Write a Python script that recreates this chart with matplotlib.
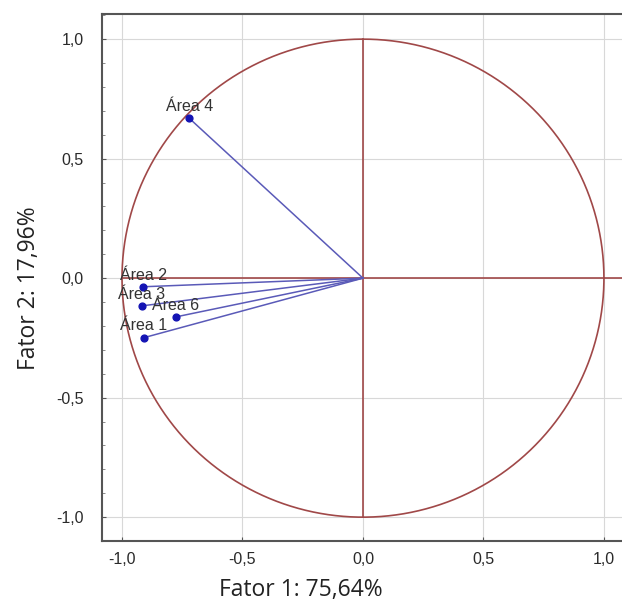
import numpy as np
import matplotlib.pyplot as plt
from matplotlib.ticker import FuncFormatter, MultipleLocator

# loadings on the first two factors
areas = ['Área 4', 'Área 2', 'Área 3', 'Área 6', 'Área 1']
fator1 = [-0.720, -0.911, -0.918, -0.776, -0.909]
fator2 = [0.668, -0.036, -0.116, -0.162, -0.249]

ticks = [-1.0, -0.5, 0.0, 0.5, 1.0]

circ_col = '#a04848'
vec_col = '#5a5ab8'
pt_col = '#1414b4'

fig = plt.figure(figsize=(6.22, 6.10), dpi=100)
ax = fig.add_axes([0.164, 0.113, 0.836, 0.864])

ax.set_xlim(-1.083, 1.075)
ax.set_ylim(-1.10, 1.105)
ax.set_xticks(ticks)
ax.set_yticks(ticks)
ax.yaxis.set_minor_locator(MultipleLocator(0.1))
ax.grid(True, color='#d8d8d8', linewidth=0.8)
ax.set_axisbelow(True)

# unit circle and the axes through the origin
t = np.linspace(0, 2 * np.pi, 400)
ax.plot(np.cos(t), np.sin(t), color=circ_col, linewidth=1.2, zorder=2)
ax.plot([-1, 1.2], [0, 0], color=circ_col, linewidth=1.2, zorder=2)
ax.plot([0, 0], [-1, 1], color=circ_col, linewidth=1.2, zorder=2)

# vectors from origin
for x, y in zip(fator1, fator2):
    ax.plot([0, x], [0, y], color=vec_col, linewidth=1.1, zorder=3)
ax.scatter(fator1, fator2, s=24, color=pt_col, zorder=4)
for x, y, name in zip(fator1, fator2, areas):
    ax.annotate(name, (x, y), xytext=(0, 3), textcoords='offset points',
                ha='center', va='bottom', fontsize=11.5, color='#333333',
                family='Liberation Sans', zorder=5)

fmt = FuncFormatter(lambda v, p: f'{v:.1f}'.replace('.', ','))
ax.xaxis.set_major_formatter(fmt)
ax.yaxis.set_major_formatter(fmt)
ax.tick_params(axis='both', which='major', labelsize=11.5, labelcolor='#2a2a2a',
               color='#555555', length=3, direction='in')
ax.tick_params(axis='y', which='minor', length=2, direction='in', color='#777777')
for lab in ax.get_xticklabels() + ax.get_yticklabels():
    lab.set_family('Liberation Sans')
ax.tick_params(axis='x', pad=8)
ax.tick_params(axis='y', pad=13)

ax.spines['right'].set_visible(False)
for s in ['left', 'bottom', 'top']:
    ax.spines[s].set_color('#555555')
    ax.spines[s].set_linewidth(1.5)

fig.text(301 / 622, 20 / 610, 'Fator 1: 75,64%', fontsize=16.5, family='Open Sans',
         color='#222222', ha='center', va='center')
fig.text(29 / 622, 1 - 288 / 610, 'Fator 2: 17,96%', fontsize=16.5, family='Open Sans',
         color='#222222', ha='center', va='center', rotation=90)

fig.savefig('out.png', dpi=100)
